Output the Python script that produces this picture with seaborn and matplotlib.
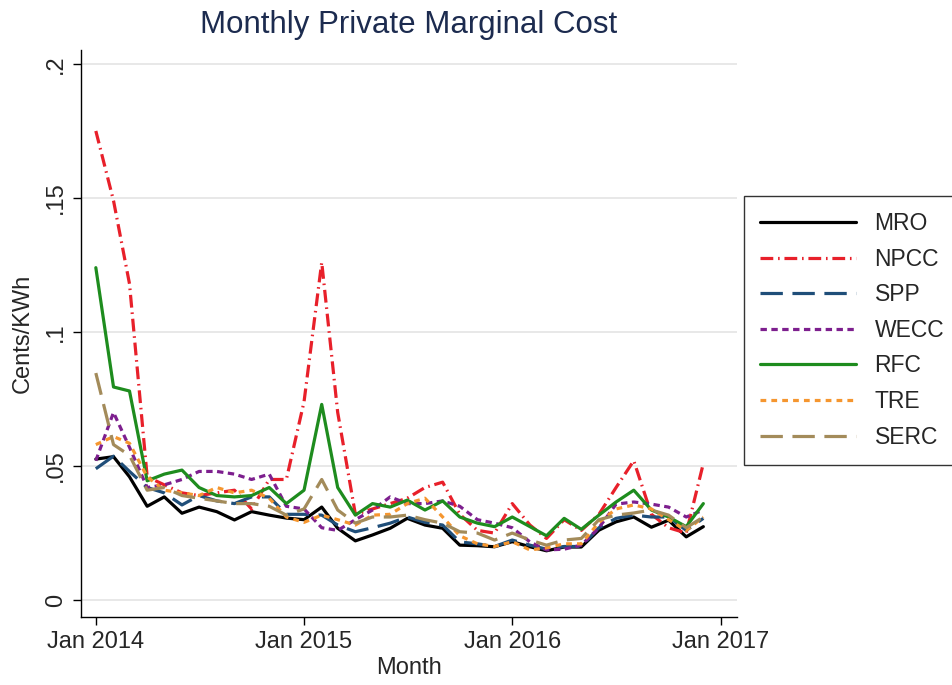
import pandas as pd
import numpy as np
import matplotlib
matplotlib.use("Agg")
import matplotlib.pyplot as plt
import seaborn as sns

# monthly values, Jan 2014 .. Dec 2016
months = pd.date_range("2014-01-01", periods=36, freq="MS")

mro = [0.0526, 0.0535, 0.046, 0.035, 0.0385, 0.0324, 0.0347, 0.033, 0.0299, 0.033, 0.0317, 0.0306,
       0.030, 0.0347, 0.0268, 0.0221, 0.0243, 0.0268, 0.0305, 0.028, 0.0268, 0.0205, 0.0203, 0.0199,
       0.0218, 0.0199, 0.0184, 0.0198, 0.0198, 0.0261, 0.0292, 0.031, 0.0272, 0.0298, 0.0236, 0.0274]
npcc = [0.175, 0.149, 0.118, 0.046, 0.043, 0.040, 0.039, 0.040, 0.041, 0.034, 0.045, 0.045,
        0.074, 0.126, 0.070, 0.032, 0.034, 0.036, 0.038, 0.042, 0.044, 0.032, 0.026, 0.025,
        0.036, 0.028, 0.023, 0.030, 0.026, 0.032, 0.042, 0.052, 0.032, 0.027, 0.025, 0.051]
spp = [0.049, 0.0537, 0.048, 0.042, 0.040, 0.0355, 0.039, 0.037, 0.036, 0.0385, 0.0385, 0.032,
       0.032, 0.0317, 0.028, 0.0255, 0.027, 0.0287, 0.031, 0.029, 0.028, 0.0217, 0.021, 0.020,
       0.0224, 0.0205, 0.019, 0.020, 0.020, 0.027, 0.0305, 0.0317, 0.031, 0.031, 0.026, 0.0305]
wecc = [0.052, 0.070, 0.057, 0.042, 0.043, 0.045, 0.048, 0.048, 0.047, 0.045, 0.047, 0.035,
        0.034, 0.027, 0.026, 0.030, 0.0336, 0.0385, 0.036, 0.036, 0.037, 0.035, 0.030, 0.0287,
        0.027, 0.0217, 0.0187, 0.019, 0.0205, 0.027, 0.0358, 0.0366, 0.0358, 0.0347, 0.031, 0.0336]
rfc = [0.124, 0.0795, 0.078, 0.0445, 0.047, 0.0485, 0.042, 0.039, 0.0385, 0.039, 0.042, 0.036,
       0.041, 0.073, 0.042, 0.0317, 0.036, 0.0347, 0.0373, 0.0336, 0.037, 0.031, 0.0287, 0.0274,
       0.031, 0.0274, 0.024, 0.0305, 0.0264, 0.0317, 0.0366, 0.041, 0.0336, 0.031, 0.0274, 0.036]
tre = [0.058, 0.061, 0.0585, 0.046, 0.041, 0.040, 0.039, 0.042, 0.040, 0.041, 0.038, 0.031,
       0.029, 0.0317, 0.030, 0.028, 0.0317, 0.032, 0.036, 0.038, 0.031, 0.024, 0.021, 0.020,
       0.0218, 0.0187, 0.0195, 0.021, 0.021, 0.029, 0.034, 0.0355, 0.034, 0.030, 0.026, 0.031]
serc = [0.0847, 0.058, 0.054, 0.041, 0.042, 0.039, 0.038, 0.037, 0.036, 0.036, 0.035, 0.0317,
        0.034, 0.045, 0.0336, 0.0287, 0.031, 0.031, 0.0317, 0.030, 0.0287, 0.0255, 0.025, 0.0224,
        0.025, 0.0224, 0.0205, 0.0224, 0.023, 0.030, 0.0317, 0.0325, 0.0336, 0.0317, 0.027, 0.031]

regions = ["MRO", "NPCC", "SPP", "WECC", "RFC", "TRE", "SERC"]
values = [mro, npcc, spp, wecc, rfc, tre, serc]

colors = {"MRO": "#000000", "NPCC": "#e8202a", "SPP": "#1f4e79", "WECC": "#7d1f8e",
          "RFC": "#1e8c1e", "TRE": "#f5962f", "SERC": "#a38b5a"}
dashes = {"MRO": "", "NPCC": (4.0, 1.5, 0.5, 1.5), "SPP": (7, 3), "WECC": (2.0, 1.4),
          "RFC": "", "TRE": (1.8, 1.6), "SERC": (7, 3)}

df = pd.DataFrame({
    "month": np.tile(months, len(regions)),
    "region": np.repeat(regions, len(months)),
    "cost": np.concatenate(values),
})

sns.set_style("white")
plt.rcParams["font.family"] = ["Liberation Sans", "DejaVu Sans"]

fig = plt.figure(figsize=(9.53, 6.85), dpi=100)
ax = fig.add_axes([81 / 953, 1 - 617 / 685, (737 - 81) / 953, (617 - 50) / 685])

sns.lineplot(data=df, x="month", y="cost", hue="region", style="region",
             hue_order=regions, style_order=regions, palette=colors, dashes=dashes,
             linewidth=2.3, ax=ax, legend=True)

# axes styling (Stata-like)
yt = [0, 0.05, 0.1, 0.15, 0.2]
ax.set_ylim(-0.0063, 0.2052)
ax.set_yticks(yt)
ax.set_yticklabels(["0", ".05", ".1", ".15", ".2"], rotation=90, va="center", fontsize=17)
ax.grid(axis="y", color="#e6e6e6", linewidth=1.3)
ax.grid(axis="x", visible=False)

xt = pd.to_datetime(["2014-01-01", "2015-01-01", "2016-01-01", "2017-01-01"])
ax.set_xlim(pd.Timestamp("2013-12-06"), pd.Timestamp("2017-01-29"))
ax.set_xticks(xt)
ax.set_xticklabels(["Jan 2014", "Jan 2015", "Jan 2016", "Jan 2017"], fontsize=17)
ax.tick_params(axis="both", direction="out", length=6, width=1, color="black", pad=4,
               left=True, bottom=True)

for s in ["top", "right"]:
    ax.spines[s].set_visible(False)
for s in ["left", "bottom"]:
    ax.spines[s].set_color("black")
    ax.spines[s].set_linewidth(1.0)

ax.set_xlabel("Month", fontsize=17, labelpad=3)
ax.set_ylabel("Cents/KWh", fontsize=17, labelpad=8)
ax.set_title("Monthly Private Marginal Cost", fontsize=22.5, color="#1c2b4f", pad=12)

handles, labels = ax.get_legend_handles_labels()
ax.get_legend().remove()
leg = fig.legend(handles, labels, loc="upper left", bbox_to_anchor=(744 / 953, 1 - 196 / 685),
                 fontsize=16.5, frameon=True, fancybox=False, handlelength=4.2,
                 handletextpad=0.8, labelspacing=0.55, borderpad=0.7, borderaxespad=0)
leg.get_frame().set_edgecolor("black")
leg.get_frame().set_linewidth(1.0)
for h in leg.get_lines():
    h.set_linewidth(2.3)

fig.savefig("out.png", dpi=100)
